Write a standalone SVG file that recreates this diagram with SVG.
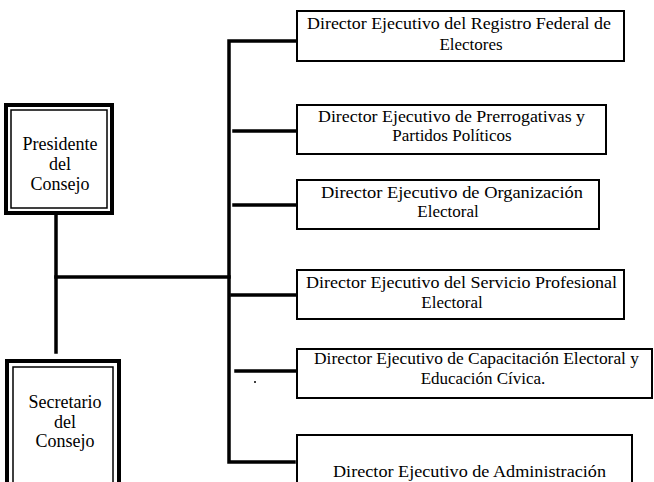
<svg xmlns="http://www.w3.org/2000/svg" width="654" height="482" viewBox="0 0 654 482">
<style>
.bg{fill:#fff}
.box{fill:#fff;stroke:#000;stroke-width:2}
.outer{fill:none;stroke:#000;stroke-width:4}
.inner{fill:#fff;stroke:#000;stroke-width:1.5}
.ln{fill:none;stroke:#000;stroke-width:3.5;stroke-linecap:square}
.t{font-family:"Liberation Serif","Times New Roman",serif;font-size:17px;fill:#000}
.c{text-anchor:middle}
.tl{font-family:"Liberation Serif","Times New Roman",serif;font-size:18px;fill:#000;text-anchor:middle}
</style>
<rect class="bg" x="0" y="0" width="654" height="482"/>
<g id="connectors">
<line class="ln" x1="56" y1="214" x2="56" y2="352"/>
<line class="ln" x1="56" y1="277" x2="229" y2="277"/>
<polyline class="ln" points="296,41 229,41 229,462 294,462"/>
<line class="ln" x1="234" y1="131" x2="296" y2="131"/>
<line class="ln" x1="234" y1="205" x2="296" y2="205"/>
<line class="ln" x1="232" y1="295" x2="296" y2="295"/>
<line class="ln" x1="236" y1="371" x2="296" y2="371"/>
<circle cx="255" cy="382" r="1" fill="#000"/>
</g>
<g id="presidente">
<rect class="outer" x="6" y="105" width="106" height="108"/>
<rect class="inner" x="11" y="110" width="96" height="98"/>
<text class="tl" x="60" y="150">Presidente</text>
<text class="tl" x="60" y="170">del</text>
<text class="tl" x="60" y="190">Consejo</text>
</g>
<g id="secretario">
<rect class="outer" x="7" y="361" width="112" height="130"/>
<rect class="inner" x="13" y="367" width="100" height="120"/>
<text class="tl" x="65" y="408">Secretario</text>
<text class="tl" x="65" y="428">del</text>
<text class="tl" x="65" y="447">Consejo</text>
</g>
<g id="registro">
<rect class="box" x="297" y="11" width="327" height="50"/>
<text class="t" x="307" y="29" textLength="304" lengthAdjust="spacingAndGlyphs">Director Ejecutivo del  Registro Federal de</text>
<text class="t c" x="471" y="50">Electores</text>
</g>
<g id="prerrogativas">
<rect class="box" x="297" y="105" width="309" height="49"/>
<text class="t" x="318" y="122" textLength="267" lengthAdjust="spacingAndGlyphs">Director Ejecutivo de Prerrogativas  y</text>
<text class="t c" x="452" y="141">Partidos Políticos</text>
</g>
<g id="organizacion">
<rect class="box" x="297" y="180" width="302" height="49"/>
<text class="t" x="321" y="198" textLength="262" lengthAdjust="spacingAndGlyphs">Director Ejecutivo de Organización</text>
<text class="t c" x="448" y="217">Electoral</text>
</g>
<g id="servicio">
<rect class="box" x="297" y="270" width="327" height="49"/>
<text class="t" x="306" y="288" textLength="311" lengthAdjust="spacingAndGlyphs">Director Ejecutivo del  Servicio  Profesional</text>
<text class="t c" x="452" y="308">Electoral</text>
</g>
<g id="capacitacion">
<rect class="box" x="297" y="349" width="355" height="49"/>
<text class="t" x="314" y="364" textLength="325" lengthAdjust="spacingAndGlyphs">Director Ejecutivo de Capacitación Electoral y</text>
<text class="t c" x="483" y="384">Educación Cívica.</text>
</g>
<g id="administracion">
<rect class="box" x="297" y="435" width="335" height="60"/>
<text class="t" x="333" y="477" textLength="273" lengthAdjust="spacingAndGlyphs">Director  Ejecutivo de Administración</text>
</g>
</svg>
